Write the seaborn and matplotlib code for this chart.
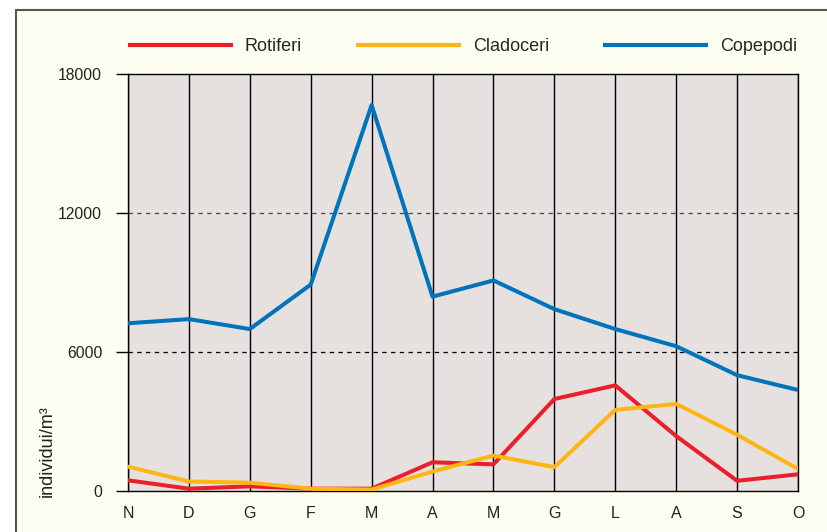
import matplotlib
matplotlib.use("Agg")
import matplotlib.pyplot as plt
from matplotlib.lines import Line2D
from matplotlib.patches import Rectangle
import pandas as pd
import seaborn as sns

# dati
mesi = ["N", "D", "G", "F", "M", "A", "M", "G", "L", "A", "S", "O"]
rotiferi = [460, 100, 200, 100, 100, 1240, 1150, 3970, 4560, 2370, 440, 720]
cladoceri = [1050, 410, 360, 100, 60, 840, 1530, 1030, 3500, 3760, 2430, 950]
copepodi = [7240, 7420, 6990, 8910, 16660, 8390, 9090, 7850, 6990, 6250, 5000, 4360]

serie = ["Rotiferi", "Cladoceri", "Copepodi"]
colori = {"Rotiferi": "#ea1f2b", "Cladoceri": "#fdb714", "Copepodi": "#0073bd"}

df = pd.concat([
    pd.DataFrame({"pos": range(len(mesi)), "valore": v, "gruppo": nome})
    for nome, v in zip(serie, [rotiferi, cladoceri, copepodi])
])

sns.set_style("white")
plt.rcParams["font.family"] = ["Liberation Sans", "DejaVu Sans"]

fig = plt.figure(figsize=(8.27, 5.32), dpi=100, facecolor="white")
# sfondo crema con bordo a sinistra e in alto
fig.add_artist(Rectangle((16 / 827, 0), 1, 1 - 10 / 532, transform=fig.transFigure,
                         facecolor="#fdfdf2", edgecolor="none", zorder=-5))
fig.add_artist(Line2D([16 / 827, 16 / 827], [0, 1 - 10 / 532], color="#555555", lw=1.5, zorder=-4))
fig.add_artist(Line2D([16 / 827, 1], [1 - 10 / 532, 1 - 10 / 532], color="#555555", lw=1.5, zorder=-4))

ax = fig.add_axes([128 / 827, 1 - 491 / 532, 670 / 827, 417 / 532])
ax.set_facecolor("#e6e1df")

sns.lineplot(data=df, x="pos", y="valore", hue="gruppo", hue_order=serie,
             palette=colori, linewidth=2.9, legend=False, ax=ax, zorder=3)

ax.set_xlim(0, len(mesi) - 1)
ax.set_ylim(0, 18000)
ax.set_xticks(range(len(mesi)))
ax.set_xticklabels(mesi, fontsize=11.5, color="#222222")
ax.set_yticks([0, 6000, 12000, 18000])
ax.set_yticklabels(["0", "6000", "12000", "18000"], fontsize=11.3, color="#222222")
ax.tick_params(axis="x", length=0, pad=11)
ax.tick_params(axis="y", length=8.6, width=1, color="black", pad=10, direction="out", left=True)
ax.set_xlabel("")
ax.set_ylabel("")

ax.grid(False)
for x in range(len(mesi)):
    ax.axvline(x, color="black", lw=1, zorder=2)
for yv, c in [(6000, "black"), (12000, "#444444")]:
    ax.axhline(yv, color=c, lw=0.9, ls=(0, (3.5, 3.5)), zorder=1)

for s in ax.spines.values():
    s.set_visible(True)
    s.set_color("black")
    s.set_linewidth(1)

fig.text(47 / 827, 1 - 497 / 532, "individui/m³", rotation=90, ha="center", va="bottom",
         fontsize=13, color="#222222")

handles = [Line2D([0], [0], color=colori[n], lw=3, solid_capstyle="butt") for n in serie]
ax.legend(handles, serie, ncol=3, loc="center left", bbox_to_anchor=(0, 1.066),
          frameon=False, fontsize=13, handlelength=5.8, handletextpad=0.66,
          columnspacing=3.0, borderpad=0, borderaxespad=0)

fig.savefig("out.png", dpi=100, facecolor=fig.get_facecolor())
